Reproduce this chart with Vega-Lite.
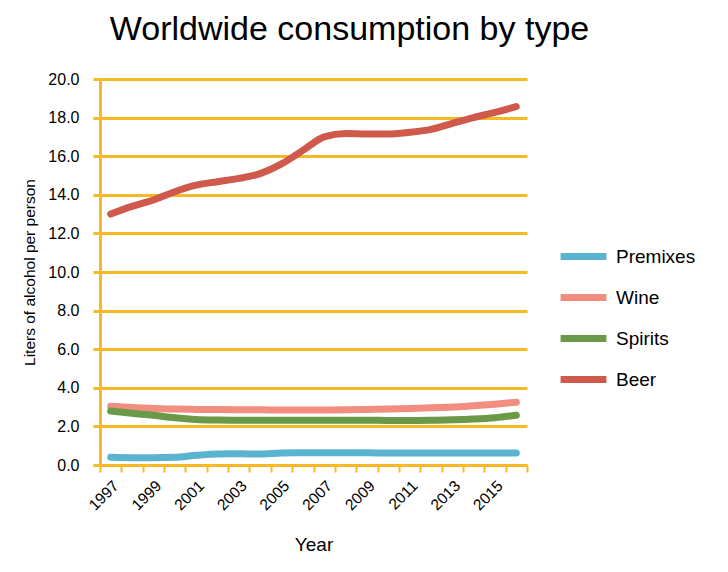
{
  "$schema": "https://vega.github.io/schema/vega-lite/v6.json",
  "width": 427,
  "height": 386,
  "autosize": "none",
  "padding": {"left": 100, "top": 79, "right": 201, "bottom": 107},
  "background": "white",
  "title": {"text": "Worldwide consumption by type", "fontSize": 34, "font": "Liberation Sans", "fontWeight": "normal", "color": "black", "anchor": "middle", "dx": 36, "offset": 24},
  "config": {"view": {"stroke": null}, "font": "Liberation Sans"},
  "datasets": {
    "rows": [
      {"year": 1997, "type": "Beer", "value": 13.0},
      {"year": 1998, "type": "Beer", "value": 13.4},
      {"year": 1999, "type": "Beer", "value": 13.73},
      {"year": 2000, "type": "Beer", "value": 14.16},
      {"year": 2001, "type": "Beer", "value": 14.5},
      {"year": 2002, "type": "Beer", "value": 14.68},
      {"year": 2003, "type": "Beer", "value": 14.85},
      {"year": 2004, "type": "Beer", "value": 15.1},
      {"year": 2005, "type": "Beer", "value": 15.6},
      {"year": 2006, "type": "Beer", "value": 16.3},
      {"year": 2007, "type": "Beer", "value": 17.0},
      {"year": 2008, "type": "Beer", "value": 17.18},
      {"year": 2009, "type": "Beer", "value": 17.15},
      {"year": 2010, "type": "Beer", "value": 17.15},
      {"year": 2011, "type": "Beer", "value": 17.24},
      {"year": 2012, "type": "Beer", "value": 17.39},
      {"year": 2013, "type": "Beer", "value": 17.7},
      {"year": 2014, "type": "Beer", "value": 18.0},
      {"year": 2015, "type": "Beer", "value": 18.27},
      {"year": 2016, "type": "Beer", "value": 18.57},
      {"year": 1997, "type": "Wine", "value": 3.05},
      {"year": 1998, "type": "Wine", "value": 2.98},
      {"year": 1999, "type": "Wine", "value": 2.93},
      {"year": 2000, "type": "Wine", "value": 2.9},
      {"year": 2001, "type": "Wine", "value": 2.88},
      {"year": 2002, "type": "Wine", "value": 2.87},
      {"year": 2003, "type": "Wine", "value": 2.86},
      {"year": 2004, "type": "Wine", "value": 2.86},
      {"year": 2005, "type": "Wine", "value": 2.85},
      {"year": 2006, "type": "Wine", "value": 2.85},
      {"year": 2007, "type": "Wine", "value": 2.85},
      {"year": 2008, "type": "Wine", "value": 2.86},
      {"year": 2009, "type": "Wine", "value": 2.88},
      {"year": 2010, "type": "Wine", "value": 2.9},
      {"year": 2011, "type": "Wine", "value": 2.93},
      {"year": 2012, "type": "Wine", "value": 2.96},
      {"year": 2013, "type": "Wine", "value": 3.0},
      {"year": 2014, "type": "Wine", "value": 3.07},
      {"year": 2015, "type": "Wine", "value": 3.15},
      {"year": 2016, "type": "Wine", "value": 3.25},
      {"year": 1997, "type": "Spirits", "value": 2.8},
      {"year": 1998, "type": "Spirits", "value": 2.68},
      {"year": 1999, "type": "Spirits", "value": 2.58},
      {"year": 2000, "type": "Spirits", "value": 2.45},
      {"year": 2001, "type": "Spirits", "value": 2.36},
      {"year": 2002, "type": "Spirits", "value": 2.33},
      {"year": 2003, "type": "Spirits", "value": 2.32},
      {"year": 2004, "type": "Spirits", "value": 2.32},
      {"year": 2005, "type": "Spirits", "value": 2.32},
      {"year": 2006, "type": "Spirits", "value": 2.32},
      {"year": 2007, "type": "Spirits", "value": 2.32},
      {"year": 2008, "type": "Spirits", "value": 2.32},
      {"year": 2009, "type": "Spirits", "value": 2.32},
      {"year": 2010, "type": "Spirits", "value": 2.31},
      {"year": 2011, "type": "Spirits", "value": 2.31},
      {"year": 2012, "type": "Spirits", "value": 2.32},
      {"year": 2013, "type": "Spirits", "value": 2.34},
      {"year": 2014, "type": "Spirits", "value": 2.38},
      {"year": 2015, "type": "Spirits", "value": 2.45},
      {"year": 2016, "type": "Spirits", "value": 2.58},
      {"year": 1997, "type": "Premixes", "value": 0.4},
      {"year": 1998, "type": "Premixes", "value": 0.38},
      {"year": 1999, "type": "Premixes", "value": 0.38},
      {"year": 2000, "type": "Premixes", "value": 0.4},
      {"year": 2001, "type": "Premixes", "value": 0.5},
      {"year": 2002, "type": "Premixes", "value": 0.57},
      {"year": 2003, "type": "Premixes", "value": 0.58},
      {"year": 2004, "type": "Premixes", "value": 0.57},
      {"year": 2005, "type": "Premixes", "value": 0.62},
      {"year": 2006, "type": "Premixes", "value": 0.63},
      {"year": 2007, "type": "Premixes", "value": 0.63},
      {"year": 2008, "type": "Premixes", "value": 0.63},
      {"year": 2009, "type": "Premixes", "value": 0.63},
      {"year": 2010, "type": "Premixes", "value": 0.62},
      {"year": 2011, "type": "Premixes", "value": 0.62},
      {"year": 2012, "type": "Premixes", "value": 0.62},
      {"year": 2013, "type": "Premixes", "value": 0.62},
      {"year": 2014, "type": "Premixes", "value": 0.62},
      {"year": 2015, "type": "Premixes", "value": 0.62},
      {"year": 2016, "type": "Premixes", "value": 0.62}
    ]
  },
  "data": {"name": "rows"},
  "mark": {"type": "line", "interpolate": "monotone", "strokeWidth": 7, "strokeCap": "round"},
  "encoding": {
    "x": {
      "field": "year", "type": "ordinal", "bandPosition": 0.5,
      "scale": {"type": "band", "paddingInner": 0, "paddingOuter": 0},
      "axis": {
        "title": "Year", "titleFontSize": 19, "titleFontWeight": "normal", "titleColor": "black", "titlePadding": 22,
        "labelAngle": -45, "labelFontSize": 15.5, "labelColor": "black", "labelPadding": 6,
        "labelExpr": "datum.value % 2 == 1 ? datum.label : ''",
        "tickBand": "extent", "tickSize": 7, "tickWidth": 2, "tickColor": "#F7BA22",
        "domainColor": "#F7BA22", "domainWidth": 3, "grid": false
      }
    },
    "y": {
      "field": "value", "type": "quantitative",
      "scale": {"domain": [0, 20]},
      "axis": {
        "title": "Liters of alcohol per person", "titleFontSize": 15.5, "titleFontWeight": "normal", "titleColor": "black", "titlePadding": 10,
        "values": [0, 2, 4, 6, 8, 10, 12, 14, 16, 18, 20], "format": ".1f",
        "labelFontSize": 16, "labelColor": "black", "labelPadding": 14,
        "tickSize": 7, "tickWidth": 3, "tickColor": "#F7BA22",
        "domainColor": "#F7BA22", "domainWidth": 3,
        "grid": true, "gridColor": "#F7BA22", "gridWidth": 3
      }
    },
    "color": {
      "field": "type", "type": "nominal",
      "scale": {"domain": ["Premixes", "Wine", "Spirits", "Beer"], "range": ["#5BB4CF", "#F28E7F", "#6A9A47", "#CF5A4B"]},
      "legend": {
        "title": null, "orient": "none", "legendX": 457, "legendY": 151,
        "symbolType": "stroke", "symbolSize": 2100, "symbolStrokeWidth": 7,
        "labelFontSize": 19, "labelColor": "black", "labelOffset": 6, "rowPadding": -6.7
      }
    }
  }
}
